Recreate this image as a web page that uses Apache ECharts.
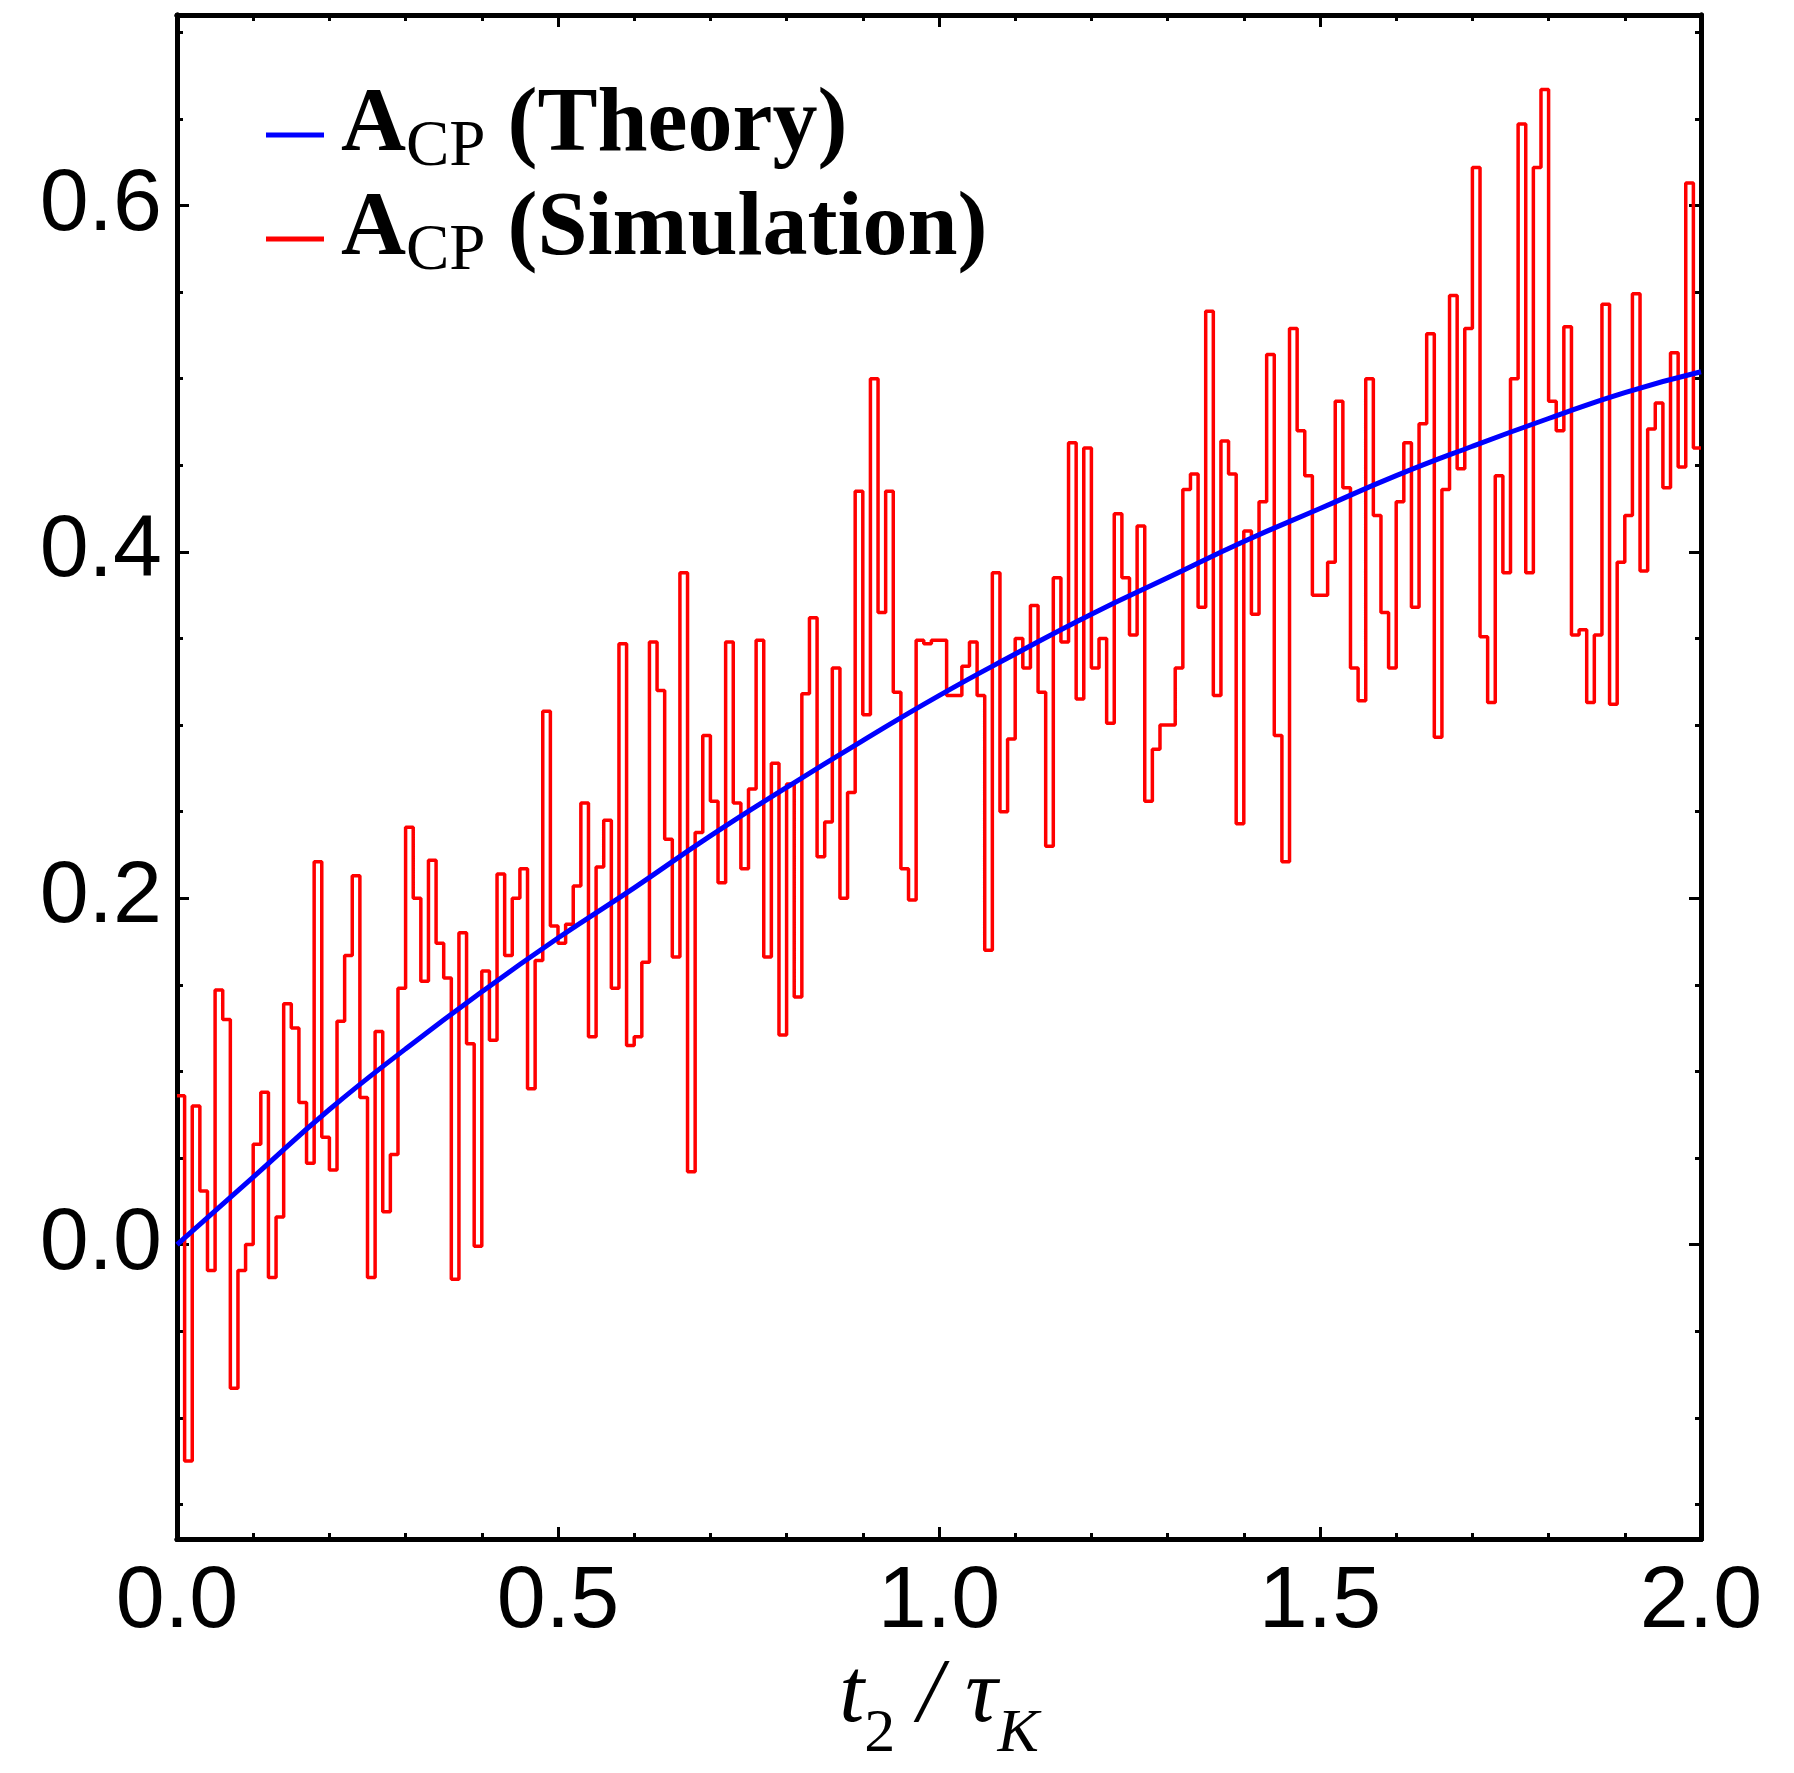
<!DOCTYPE html>
<html><head><meta charset="utf-8">
<script src="https://cdn.jsdelivr.net/npm/echarts@6/dist/echarts.min.js"></script>
<style>html,body{margin:0;padding:0;background:#fff}#c{width:1794px;height:1773px}</style>
</head><body><div id="c"></div>
<script>
// ---- data ----
const binStart = 0;
const binWidth = 0.01;
const simValues = [
 0.086,-0.125,0.080,0.031,-0.015,0.147,0.130,-0.083,-0.015,0.000,
 0.058,0.088,-0.019,0.016,0.139,0.125,0.082,0.047,0.221,0.062,
 0.043,0.129,0.167,0.213,0.085,-0.019,0.123,0.019,0.052,0.148,
 0.241,0.200,0.152,0.222,0.174,0.154,-0.020,0.180,0.116,-0.001,
 0.158,0.118,0.214,0.167,0.200,0.217,0.090,0.164,0.308,0.184,
 0.174,0.185,0.207,0.255,0.120,0.218,0.245,0.148,0.347,0.115,
 0.120,0.163,0.348,0.320,0.234,0.166,0.388,0.042,0.238,0.294,
 0.256,0.209,0.348,0.255,0.217,0.263,0.349,0.166,0.278,0.121,
 0.266,0.143,0.318,0.362,0.224,0.244,0.333,0.200,0.261,0.435,
 0.306,0.500,0.365,0.435,0.319,0.217,0.199,0.349,0.347,0.349,
 0.349,0.317,0.317,0.334,0.348,0.317,0.170,0.388,0.250,0.292,
 0.350,0.333,0.369,0.319,0.230,0.385,0.348,0.463,0.315,0.460,
 0.333,0.350,0.301,0.422,0.385,0.352,0.415,0.256,0.286,0.300,
 0.300,0.333,0.436,0.445,0.368,0.539,0.317,0.464,0.445,0.243,
 0.412,0.364,0.429,0.514,0.294,0.221,0.529,0.470,0.444,0.375,
 0.375,0.394,0.487,0.437,0.333,0.314,0.500,0.421,0.365,0.333,
 0.429,0.463,0.368,0.474,0.526,0.293,0.436,0.548,0.448,0.529,
 0.622,0.351,0.313,0.444,0.388,0.500,0.647,0.388,0.622,0.667,
 0.487,0.470,0.530,0.352,0.355,0.313,0.352,0.543,0.312,0.394,
 0.421,0.549,0.389,0.471,0.486,0.437,0.515,0.449,0.613,0.460
];
const theoryT = [0,0.1,0.2,0.3,0.4,0.5,0.6,0.7,0.8,0.9,1.0,1.1,1.2,1.3,1.4,1.5,1.6,1.7,1.8,1.9,2.0];
const theoryValues = [0,0.039,0.078,0.113,0.146,0.177,0.206,0.236,0.264,0.291,0.317,0.341,0.364,0.385,0.406,0.425,0.444,0.461,0.477,0.492,0.504];
const xMajorTicks = [0,0.5,1.0,1.5,2.0];
const xMinorTicks = [0.1,0.2,0.3,0.4,0.6,0.7,0.8,0.9,1.1,1.2,1.3,1.4,1.6,1.7,1.8,1.9];
const yLabelTicks = [0,0.2,0.4,0.6];
const yMinorTicks = [-0.15,-0.1,-0.05,0.05,0.1,0.15,0.25,0.3,0.35,0.45,0.5,0.55,0.65,0.7];
const legendNames = ['Theory','Simulation'];

// ---- build ----
const xMin = 0, xMax = 2, yMin = -0.17, yMax = 0.71;
const simData = simValues.map((v,i)=>[binStart + i*binWidth, v]);
simData.push([binStart + simValues.length*binWidth, simValues[simValues.length-1]]);
const theoryData = theoryT.map((t,i)=>[t, theoryValues[i]]);

const axisCol = '#000';
function xAx(pos, ticks, len, labels){
  return {type:'value', position:pos, min:xMin, max:xMax,
    axisLine:{show:true, onZero:false, lineStyle:{color:axisCol, width:5}},
    axisTick:{show:true, inside:true, length:len, customValues:ticks, lineStyle:{color:axisCol, width:3}},
    axisLabel:labels?{show:true, customValues:ticks, margin:20, color:'#000', fontSize:88, fontFamily:'Liberation Sans', formatter:v=>v.toFixed(1)}:{show:false},
    splitLine:{show:false}};
}
function yAx(pos, ticks, len, labels){
  return {type:'value', position:pos, min:yMin, max:yMax,
    axisLine:{show:true, onZero:false, lineStyle:{color:axisCol, width:5}},
    axisTick:{show:true, inside:true, length:len, customValues:ticks, lineStyle:{color:axisCol, width:3}},
    axisLabel:labels?{show:true, customValues:ticks, margin:15, color:'#000', fontSize:88, fontFamily:'Liberation Sans', formatter:v=>v.toFixed(1)}:{show:false},
    splitLine:{show:false}};
}
const xa0 = xAx('bottom', xMajorTicks, 12, true);
xa0.name = '{ti|t}{su|2}{sl| / }{ti|τ}{sk|K}';
xa0.nameLocation = 'middle';
xa0.nameGap = 128;
xa0.nameTextStyle = {rich:{
  ti:{fontFamily:'Liberation Serif', fontStyle:'italic', fontSize:90, lineHeight:90, padding:[0,0,24,0], verticalAlign:'bottom', color:'#000'},
  su:{fontFamily:'Liberation Serif', fontSize:62, lineHeight:62, verticalAlign:'bottom', color:'#000'},
  sk:{fontFamily:'Liberation Serif', fontStyle:'italic', fontSize:62, lineHeight:62, verticalAlign:'bottom', color:'#000'},
  sl:{fontFamily:'Liberation Serif', fontStyle:'italic', fontSize:90, lineHeight:90, padding:[0,0,24,0], verticalAlign:'bottom', color:'#000'}
}};

const chart = echarts.init(document.getElementById('c'), null, {renderer:'canvas'});
chart.setOption({
  backgroundColor:'#fff',
  animation:false,
  grid:{left:177, top:15, width:1524, height:1524, containLabel:false},
  xAxis:[xa0, xAx('bottom', xMinorTicks, 6, false), xAx('top', xMajorTicks, 12, false), xAx('top', xMinorTicks, 6, false)],
  yAxis:[yAx('left', yLabelTicks, 12, true), yAx('left', yMinorTicks, 6, false), yAx('right', yLabelTicks, 12, false), yAx('right', yMinorTicks, 6, false)],
  legend:{
    show:true, orient:'vertical', left:261, top:77, itemWidth:58, itemHeight:5, itemGap:6, icon:'rect',
    data:legendNames,
    formatter:n=>'{a|A}{s|CP}{b|(' + n + ')}',
    textStyle:{rich:{
      a:{fontFamily:'Liberation Serif', fontWeight:'bold', fontSize:90, lineHeight:90, padding:[0,0,8,12], verticalAlign:'bottom', color:'#000'},
      s:{fontFamily:'Liberation Serif', fontSize:65, lineHeight:65, padding:[0,22,0,0], verticalAlign:'bottom', color:'#000'},
      b:{fontFamily:'Liberation Serif', fontWeight:'bold', fontSize:90, lineHeight:90, padding:[0,0,8,0], verticalAlign:'bottom', color:'#000'}
    }}
  },
  series:[
    {name:'Simulation', type:'line', step:'end', data:simData, showSymbol:false, symbol:'none',
     lineStyle:{color:'#ff0000', width:3.5}, itemStyle:{color:'#ff0000'}, xAxisIndex:0, yAxisIndex:0, z:2},
    {name:'Theory', type:'line', data:theoryData, smooth:0.5, showSymbol:false, symbol:'none',
     lineStyle:{color:'#0000ff', width:5}, itemStyle:{color:'#0000ff'}, xAxisIndex:0, yAxisIndex:0, z:3}
  ]
});
</script></body></html>
